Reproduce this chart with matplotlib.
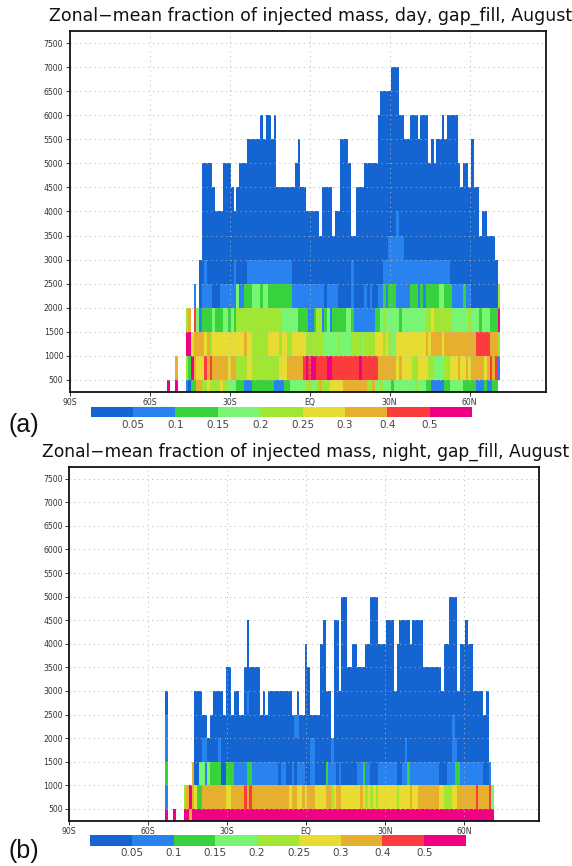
"""
Zonal-mean fraction of injected mass per height band, day and night panels.
"""
import numpy as np
import matplotlib
matplotlib.use('Agg')
import matplotlib.pyplot as plt
from matplotlib.colors import ListedColormap, BoundaryNorm

# Colour classes of the fraction, lowest first
levels = [0, 0.05, 0.1, 0.15, 0.2, 0.25, 0.3, 0.4, 0.5, 1.0]
level_labels = ['0.05', '0.1', '0.15', '0.2', '0.25', '0.3', '0.4', '0.5']
class_values = [0.03, 0.07, 0.12, 0.17, 0.22, 0.27, 0.35, 0.45, 0.6]
colours = ['#1464D2', '#2882F0', '#37D23C', '#78F573', '#A0E632',
           '#E6DC32', '#E6AF2D', '#FA3C3C', '#F00082']
N = None  # no data over this stretch of latitude

height_ticks = list(range(500, 8000, 500))
lat_ticks = [-90, -60, -30, 0, 30, 60]
lat_labels = ['90S', '60S', '30S', 'EQ', '30N', '60N']

# Each band: latitude edges, then the class between two edges
day_0_lat = [-53.5, -52.5, -50.5, -49.5, -46.5, -45.5, -44.5, -42.5, -40.5, -38.5, -37.5, -33.5, -32.5, -30.5, -27.5,
             -24.5, -21.5, -13.5, -9.5, -7.5, -1.5, 0.5, 2.5, 3.5, 4.5, 7.5, 12.5, 21.5, 23.5, 24.5, 26.5, 27.5,
             30.5, 31.5, 39.5, 40.5, 43.5, 45.5, 50.5, 52.5, 57.5, 62.5, 65.5, 66.5, 68.5, 70.5]
day_0_val = [8, N, 8, N, 1, 0, 2, 6, 4, 5, 4, 5, 4, 3, 2,
             1, 2, 1, 2, 3, 4, 3, 4, 6, 4, 5, 6, 4, 6, 3, 4,
             3, 2, 3, 4, 3, 2, 1, 2, 3, 2, 1, 2, 1, 2]

day_500_lat = [-50.5, -49.5, -46.5, -45.5, -44.5, -43.5, -42.5, -39.5, -38.5, -37.5, -36.5, -30.5, -29.5, -27.5, -23.5,
               -21.5, -11.5, -8.5, -2.5, -1.5, -0.5, 0.5, 2.5, 6.5, 8.5, 18.5, 19.5, 25.5, 32.5, 33.5, 34.5, 38.5,
               40.5, 44.5, 46.5, 50.5, 52.5, 55.5, 56.5, 58.5, 59.5, 60.5, 65.5, 66.5, 67.5, 68.5, 69.5, 70.5, 71.5]
day_500_val = [6, N, 4, 2, 8, 6, 5, 7, 6, 7, 6, 5, 6, 4,
               5, 4, 5, 6, 7, 8, 7, 8, 7, 8, 7, 8, 7, 6, 5, 6, 5,
               4, 5, 4, 3, 4, 5, 6, 5, 6, 5, 6, 5, 6, 7, 6, 7, 1]

day_1000_lat = [-46.5, -44.5, -43.5, -39.5, -38.5, -37.5, -36.5, -24.5, -23.5, -21.5, -15.5, -11.5, -10.5, -8.5, -6.5,
                -1.5, 5.5, 10.5, 11.5, 15.5, 19.5, 20.5, 24.5, 27.5, 28.5, 29.5, 30.5, 32.5, 43.5, 44.5, 45.5, 49.5,
                50.5, 62.5, 67.5, 70.5, 71.5]
day_1000_val = [8, 5, 6, 5, 6, 4, 5, 6, 5, 4, 5, 4, 5, 4,
                5, 4, 3, 4, 3, 4, 3, 4, 5, 4, 5, 4, 3, 5, 6, 5, 6,
                5, 6, 7, 6, 4]

day_1500_lat = [-46.5, -45.5, -44.5, -43.5, -42.5, -41.5, -40.5, -36.5, -35.5, -32.5, -30.5, -29.5, -28.5, -27.5,
                -10.5, -4.5, -0.5, 1.5, 2.5, 4.5, 5.5, 6.5, 7.5, 8.5, 13.5, 15.5, 16.5, 24.5, 26.5, 27.5, 28.5, 33.5,
                34.5, 43.5, 45.5, 46.5, 53.5, 59.5, 60.5, 63.5, 64.5, 67.5, 70.5, 71.5]
day_1500_val = [4, 6, N, 7, 3, 1, 2, 3, 2, 3, 2, 3, 2,
                4, 3, 2, 1, 2, 4, 1, 2, 3, 1, 2, 3, 2, 1, 2, 3, 4, 3,
                2, 3, 4, 5, 4, 3, 4, 3, 2, 3, 2, 8]

day_2000_lat = [-43.5, -42.5, -41.5, -40.5, -36.5, -33.5, -27.5, -26.5, -24.5, -21.5, -18.5, -17.5, -15.5, -6.5, 5.5,
                6.5, 10.5, 15.5, 16.5, 20.5, 21.5, 22.5, 23.5, 25.5, 27.5, 28.5, 29.5, 32.5, 37.5, 40.5, 41.5, 42.5,
                43.5, 48.5, 50.5, 53.5, 57.5, 58.5, 60.5, 70.5, 71.5]
day_2000_val = [1, N, 0, 1, 0, 1, 3, 1, 2, 3, 2, 3, 2, 1,
                0, 1, 0, 1, 0, 1, 0, 1, 0, 1, 2, 1, 2, 1, 2, 1, 2,
                1, 2, 3, 2, 1, 2, 1, 0, 4]

# Paler stretches inside the solid blue part of the day panel
day_2500_lat = [-39.5, -38.5, -28.5, -27.5, -23.5, -6.5, 15.5, 16.5, 27.5, 52.5]
day_2500_val = [1, N, 1, N, 1, N, 1, N, 1]
day_3000_lat = [29.5, 35.5]
day_3000_val = [1]
day_3500_lat = [32.5, 33.5]
day_3500_val = [1]

# Top of the blue columns, metres
day_top_lat = [-41.5, -40.5, -36.5, -35.5, -32.5, -29.5, -28.5, -27.5, -26.5, -23.5, -18.5, -17.5, -16.5, -14.5, -13.5,
               -12.5, -5.5, -4.5, -3.5, -1.5, 3.5, 4.5, 8.5, 9.5, 11.5, 14.5, 15.5, 17.5, 20.5, 25.5, 26.5, 30.5,
               33.5, 35.5, 37.5, 40.5, 41.5, 44.5, 45.5, 46.5, 47.5, 49.5, 50.5, 51.5, 55.5, 56.5, 57.5, 59.5, 60.5,
               61.5, 63.5, 64.5, 66.5, 69.5, 70.5]
day_top_m = [3000, 5000, 4500, 4000, 5000, 4500, 4000, 4500, 5000, 5500, 6000, 5500, 6000, 5500,
             6000, 4500, 5000, 5500, 4500, 4000, 3500, 4500, 3500, 4000, 5500, 5000, 3500, 4500, 5000, 6000, 6500,
             7000, 6000, 5500, 6000, 5500, 6000, 5000, 5500, 5000, 5500, 6000, 5500, 6000, 5000, 4500, 5000, 4500,
             5500, 4500, 3500, 4000, 3500, 3000]

night_0_lat = [-53.5, -52.5, -50.5, -49.5, -46.5, -44.5, -43.5, 71.5]
night_0_val = [8, N, 8, N, 8, 6, 8]

night_500_lat = [-53.5, -52.5, -46.5, -45.5, -44.5, -43.5, -42.5, -41.5, -39.5, -30.5, -28.5, -23.5, -22.5, -21.5,
                 -20.5, -6.5, -5.5, -3.5, -1.5, -0.5, 0.5, 3.5, 7.5, 9.5, 10.5, 11.5, 13.5, 20.5, 21.5, 22.5, 23.5,
                 24.5, 25.5, 26.5, 27.5, 34.5, 35.5, 39.5, 40.5, 42.5, 50.5, 52.5, 55.5, 57.5, 64.5, 65.5, 69.5, 70.5,
                 71.5]
night_500_val = [1, N, 4, 6, 8, 6, 5, 2, 6, 5, 6, 7, 6,
                 7, 6, 5, 6, 5, 6, 5, 6, 5, 6, 4, 5, 6, 5, 6, 5, 4,
                 5, 4, 5, 4, 5, 4, 5, 6, 5, 6, 5, 4, 5, 6, 7, 6, 7,
                 3]

night_1000_lat = [-53.5, -52.5, -43.5, -42.5, -40.5, -38.5, -37.5, -36.5, -32.5, -30.5, -27.5, -22.5, -20.5, -10.5,
                  -9.5, -7.5, -5.5, -4.5, -3.5, -0.5, 1.5, 3.5, 7.5, 8.5, 11.5, 12.5, 13.5, 19.5, 21.5, 22.5, 24.5,
                  27.5, 34.5, 36.5, 38.5, 39.5, 50.5, 53.5, 56.5, 58.5, 67.5, 69.5, 70.5]
night_1000_val = [2, N, 6, 0, 3, 1, 3, 2, 0, 2, 1, 2, 1,
                  0, 1, 0, 1, 0, 1, 0, 1, 0, 2, 1, 0, 1, 0, 1, 2, 1,
                  0, 1, 0, 1, 2, 1, 0, 1, 2, 1, 0, 1]

night_1500_lat = [-53.5, -52.5, -39.5, -37.5, -33.5, -32.5, 1.5, 3.5, 9.5, 10.5, 37.5, 38.5, 55.5, 57.5]
night_1500_val = [1, N, 1, N, 1, N, 1, N, 1, N, 1, N, 1]
night_2000_lat = [-53.5, -52.5, -4.5, -2.5, 55.5, 56.5]
night_2000_val = [1, N, 1, N, 1]
night_2500_lat = [-22.5, -21.5]
night_2500_val = [1]

night_top_lat = [-53.5, -52.5, -42.5, -39.5, -37.5, -36.5, -35.5, -31.5, -30.5, -28.5, -27.5, -25.5, -23.5, -22.5,
                 -21.5, -17.5, -16.5, -15.5, -14.5, -5.5, -3.5, -2.5, -0.5, 0.5, 1.5, 5.5, 6.5, 7.5, 9.5, 10.5, 12.5,
                 13.5, 15.5, 17.5, 19.5, 22.5, 24.5, 27.5, 30.5, 33.5, 34.5, 35.5, 39.5, 40.5, 44.5, 51.5, 52.5, 54.5,
                 57.5, 58.5, 60.5, 61.5, 63.5, 67.5, 68.5, 69.5, 70.5]
night_top_m = [3000, N, 3000, 2500, 2000, 2500, 3000, 2500, 3500, 2500, 3000, 2500, 3500,
               4500, 3500, 2500, 3000, 2500, 3000, 2500, 3000, 2500, 4000, 3500, 2500, 4000, 4500, 3000, 2000, 4500,
               3000, 5000, 3500, 4000, 3500, 4000, 5000, 4000, 4500, 3000, 4000, 4500, 4000, 4500, 3500, 3000, 4000,
               5000, 3000, 4000, 4500, 4000, 3000, 2500, 3000, 1500]

day_bands = {0: (day_0_lat, day_0_val), 500: (day_500_lat, day_500_val), 1000: (day_1000_lat, day_1000_val),
             1500: (day_1500_lat, day_1500_val), 2000: (day_2000_lat, day_2000_val),
             2500: (day_2500_lat, day_2500_val), 3000: (day_3000_lat, day_3000_val),
             3500: (day_3500_lat, day_3500_val)}
night_bands = {0: (night_0_lat, night_0_val), 500: (night_500_lat, night_500_val),
               1000: (night_1000_lat, night_1000_val), 1500: (night_1500_lat, night_1500_val),
               2000: (night_2000_lat, night_2000_val), 2500: (night_2500_lat, night_2500_val)}

lat_edges = np.arange(-90.5, 90.0, 1.0)
lat_centres = lat_edges[:-1] + 0.5
height_edges = np.arange(0, 8001, 500)

W, H = 572.0, 866.0
cmap = ListedColormap(colours)
norm = BoundaryNorm(levels, cmap.N)


def build_grid(bands, top_lat, top_m, base):
    """Blue columns from base up to the top, then the coloured bands over them."""
    grid = np.full((len(height_edges) - 1, len(lat_centres)), np.nan)
    for i, top in enumerate(top_m):
        if top is None:
            continue
        mask = (lat_centres > top_lat[i]) & (lat_centres < top_lat[i + 1])
        rows = (height_edges[:-1] >= base) & (height_edges[1:] <= top)
        grid[np.ix_(rows, mask)] = class_values[0]
    for bottom, (lats, vals) in bands.items():
        row = list(height_edges).index(bottom)
        for i, c in enumerate(vals):
            if c is None:
                continue
            mask = (lat_centres > lats[i]) & (lat_centres < lats[i + 1])
            grid[row, mask] = class_values[c]
    return grid


def axes_px(fig, left, top, right, bottom):
    return fig.add_axes([left / W, 1 - bottom / H, (right - left) / W, (bottom - top) / H])


def draw_panel(fig, box, grid, title, title_x, title_y, title_size, bar, letter, letter_y):
    ax = axes_px(fig, *box)
    ax.pcolormesh(lat_edges, height_edges, grid, cmap=cmap, norm=norm, shading='flat')
    ax.set_xlim(-90, 88.5)
    ax.set_ylim(250, 7755)
    ax.set_xticks(lat_ticks)
    ax.set_xticklabels(lat_labels, fontsize=5.6, color='#333333')
    ax.set_yticks(height_ticks)
    ax.set_yticklabels([str(h) for h in height_ticks], fontsize=5.6, color='#333333')
    ax.tick_params(axis='both', length=3, width=0.7, pad=1.5, color='#333333')
    ax.set_axisbelow(False)
    ax.grid(True, color='#b4b4b4', linewidth=0.7, linestyle=(0, (1, 4)))
    for s in ax.spines.values():
        s.set_linewidth(1.3)
        s.set_color('#111111')
        s.set_zorder(5)

    fig.text(title_x / W, 1 - title_y / H, title, fontsize=title_size, ha='left', va='center', color='#111111')
    fig.text(8 / W, 1 - letter_y / H, letter, fontsize=18, family='Liberation Sans', ha='left', va='center',
             color='#111111')

    cax = axes_px(fig, *bar)
    cax.pcolormesh(np.arange(len(class_values) + 1), [0, 1], [class_values], cmap=cmap, norm=norm, shading='flat')
    cax.set_yticks([])
    cax.set_xticks(np.arange(1, len(class_values)))
    cax.set_xticklabels(level_labels, fontsize=7.5, color='#444444')
    cax.tick_params(axis='x', length=0, pad=2)
    for s in cax.spines.values():
        s.set_visible(False)


fig = plt.figure(figsize=(W / 100, H / 100), dpi=100, facecolor='white')

day_grid = build_grid(day_bands, day_top_lat, day_top_m, 2500)
night_grid = build_grid(night_bands, night_top_lat, night_top_m, 1500)

draw_panel(fig, (69.5, 31, 545.7, 391.7), day_grid,
           'Zonal\u2212mean fraction of injected mass, day, gap_fill, August', 49, 16, 12.5,
           (90.7, 406.7, 472, 417.3), '(a)', 425)
draw_panel(fig, (69.3, 466.7, 538.7, 820.7), night_grid,
           'Zonal\u2212mean fraction of injected mass, night, gap_fill, August', 42, 452, 12.3,
           (90, 835, 466, 845.7), '(b)', 851)

fig.savefig('out.png', dpi=100)
